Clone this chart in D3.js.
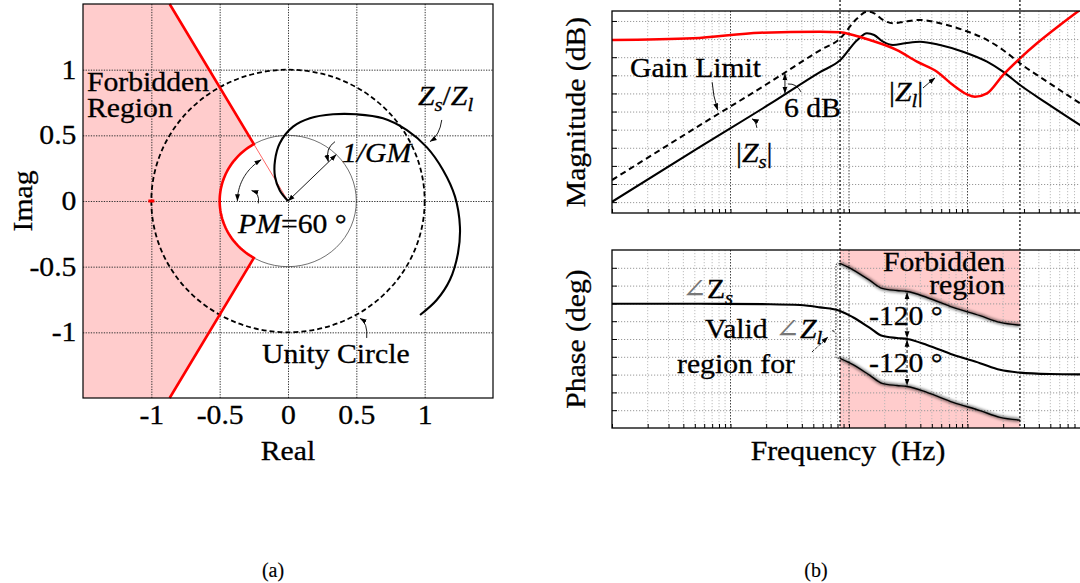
<!DOCTYPE html>
<html>
<head>
<meta charset="utf-8">
<script src="https://cdn.jsdelivr.net/npm/d3@7/dist/d3.min.js"></script>
<style>
  html, body { margin: 0; padding: 0; background: #fff; }
  svg text, svg tspan { font-family: "Liberation Serif", "DejaVu Serif", serif; }
  svg text { stroke: currentColor; stroke-width: 0.3px; }
</style>
</head>
<body>
<svg id="fig" width="1080" height="583"></svg>
<script>
// ---------------- (a) Nyquist plot of Zs/Zl ----------------
const nyqTicks = [-1, -0.5, 0, 0.5, 1];
const nyqTickLabels = ["-1", "-0.5", "0", "0.5", "1"];
const phaseMarginDeg = 60;     // PM
const invGainMargin = 0.5;     // 1/GM
const unityRadius = 1;
const ratioRe = [0, -0.06, -0.095, -0.095, -0.06, 0.037, 0.16, 0.33, 0.50, 0.695, 0.87, 1.015, 1.134, 1.222, 1.258, 1.244, 1.185, 1.088, 0.966];
const ratioIm = [0, 0.08, 0.185, 0.31, 0.44, 0.566, 0.63, 0.66, 0.66, 0.63, 0.54, 0.41, 0.236, 0.033, -0.196, -0.396, -0.60, -0.754, -0.868];

// ---------------- (b) Bode plots of Zs and Zl ----------------
const magTicksDb = [-50, -45, -40, -35, -30, -25, -20, -15, -10, -5, 0];
const phaseTicksDeg = [-180, -135, -90, -45, 0, 45, 90, 135, 180];
const zsMagFreq = [10, 55.3, 215, 569, 840, 1170, 1418, 1630, 1936, 2351, 2970, 3970, 5860, 9160, 14610, 19930, 27730, 46870, 100000];
const zsMagDb   = [-49.9, -34.76, -22.9, -14.1, -10.86, -5.3, -3.41, -3.88, -5.72, -6.64, -6.17, -5.72, -6.64, -8.48, -11.24, -14.0, -17.68, -22.73, -29.8];
const zlMagFreq = [10, 48.3, 178, 569, 840, 1081, 1503, 2542, 3748, 5528, 7545, 9903, 11570, 14610, 19930, 27730, 38590, 60330, 89000, 100000];
const zlMagDb   = [-5.26, -4.79, -3.24, -2.96, -3.13, -3.88, -5.26, -8.04, -11.24, -14.0, -17.68, -20.24, -20.9, -19.97, -14.92, -10.31, -6.17, -1.12, 3.03, 4.2];
const zsPhaseFreq = [10, 55, 216, 386, 569, 840, 1080, 1500, 1900, 2540, 3090, 4550, 7550, 12750, 18800, 27700, 49700, 100000];
const zsPhaseDeg  = [89, 89, 88, 86, 80, 71, 55, 28, 8, 2.5, 0, -15, -40, -61, -78, -85, -88.5, -89.5];
const gainMarginDb = 6;
const phaseBandDeg = 120;
const bandFreq = [840, 27700];
const bandNoteFreq = 3090;

// ---------------- helpers ----------------
const svg = d3.select("#fig");
const FS = 27, SX = 1.1;
const FONT = '"Liberation Serif", "DejaVu Serif", serif';

const defs = svg.append("defs");
defs.append("marker").attr("id", "ah")
  .attr("viewBox", "0 0 10 10").attr("refX", 9.5).attr("refY", 5)
  .attr("markerWidth", 7).attr("markerHeight", 7)
  .attr("markerUnits", "userSpaceOnUse").attr("orient", "auto-start-reverse")
  .append("path").attr("d", "M0,1.5 L10,5 L0,8.5 Z").attr("fill", "#000");
defs.append("filter").attr("id", "soft").attr("x", "-10%").attr("y", "-30%").attr("width", "120%").attr("height", "160%")
  .append("feGaussianBlur").attr("stdDeviation", 1.8);

// Places a (possibly mixed-style) text label; each part is a plain string or {t, i, sub, fill}.
function label(g, x, y, parts, o = {}) {
  const size = o.size || FS;
  const tf = `translate(${x},${y})` + (o.rotate ? ` rotate(${o.rotate})` : "") + ` scale(${o.sx ?? SX},1)`;
  const t = g.append("text").attr("transform", tf)
    .style("font-family", FONT).style("font-size", size + "px").style("font-style", "normal")
    .style("color", "#000")
    .attr("text-anchor", o.anchor || "start").attr("fill", "#000");
  if (o.size && o.size < 24) t.style("stroke-width", "0.15px");
  if (typeof parts === "string") { t.text(parts); return t; }
  let shift = 0;
  parts.forEach(p => {
    if (typeof p === "string") p = { t: p };
    const target = p.sub ? size * 0.24 : 0;
    const s = t.append("tspan").text(p.t)
      .style("font-family", FONT)
      .style("font-style", p.i ? "italic" : "normal")
      .style("font-size", (p.sub ? size * 0.7 : size) + "px");
    if (target !== shift) { s.attr("dy", target - shift); shift = target; }
    if (p.fill) s.attr("fill", p.fill).style("color", p.fill).style("stroke-width", "0px");
  });
  return t;
}

function leader(g, p0, c, p1, o = {}) {
  const path = d3.path();
  path.moveTo(p0[0], p0[1]);
  path.quadraticCurveTo(c[0], c[1], p1[0], p1[1]);
  const el = g.append("path").attr("d", path.toString()).attr("fill", "none")
    .attr("stroke", "#000").attr("stroke-width", o.w || 0.9);
  if (o.dash) el.attr("stroke-dasharray", o.dash);
  if (o.end !== false) el.attr("marker-end", "url(#ah)");
  if (o.start) el.attr("marker-start", "url(#ah)");
  return el;
}

// ================= (a) Nyquist =================
const xN = d3.scaleLinear().domain([-1.5, 1.5]).range([83, 493]);
const yN = d3.scaleLinear().domain([-1.5, 1.5]).range([398, 4]);
const gN = svg.append("g");
const [xl, xr] = xN.domain(), [yb, yt] = yN.domain();
const toPx = ([re, im]) => [xN(re), yN(im)];
const rad = a => a * Math.PI / 180;
const rayDeg = 180 - phaseMarginDeg;                 // 120 deg boundary ray
const arcPts = d3.range(rayDeg, 360 - rayDeg + 0.01, 2)
  .map(a => [invGainMargin * Math.cos(rad(a)), invGainMargin * Math.sin(rad(a))]);
const rTop = yt / Math.sin(rad(rayDeg));
const topPt = [rTop * Math.cos(rad(rayDeg)), yt];
const botPt = [topPt[0], yb];

// forbidden region fill
gN.append("path")
  .attr("d", d3.line()([[xl, yt], topPt, ...arcPts, botPt, [xl, yb]].map(toPx)) + "Z")
  .attr("fill", "#ffcccc");

// grid
gN.append("g").attr("transform", `translate(0,${yN(yb)})`)
  .call(d3.axisBottom(xN).tickValues(nyqTicks).tickSize(-(yN(yb) - yN(yt))).tickFormat(""))
  .call(a => a.select(".domain").remove())
  .selectAll("line").attr("stroke", "#333").attr("stroke-dasharray", "1.3,1.3");
gN.append("g").attr("transform", `translate(${xN(xl)},0)`)
  .call(d3.axisLeft(yN).tickValues(nyqTicks).tickSize(-(xN(xr) - xN(xl))).tickFormat(""))
  .call(a => a.select(".domain").remove())
  .selectAll("line").attr("stroke", "#333").attr("stroke-dasharray", "1.3,1.3");

// tick labels
gN.append("g").attr("transform", `translate(0,${yN(yb)})`)
  .call(d3.axisBottom(xN).tickValues(nyqTicks).tickSize(0).tickFormat((d, i) => nyqTickLabels[i]))
  .call(a => a.select(".domain").remove())
  .selectAll("text").attr("y", 26).attr("dy", null).attr("fill", "#000").style("color", "#000")
  .style("font-size", FS + "px").style("font-family", FONT)
  .attr("transform", `scale(${SX},1)`);
gN.append("g").attr("transform", `translate(${xN(xl)},0)`)
  .call(d3.axisLeft(yN).tickValues(nyqTicks).tickSize(0).tickPadding(6).tickFormat((d, i) => nyqTickLabels[i]))
  .call(a => a.select(".domain").remove())
  .selectAll("text").attr("fill", "#000").style("color", "#000").style("font-size", FS + "px").style("font-family", FONT)
  .attr("transform", `scale(${SX},1)`);

// 1/GM circle (thin)
gN.append("ellipse").attr("cx", xN(0)).attr("cy", yN(0))
  .attr("rx", xN(invGainMargin) - xN(0)).attr("ry", yN(0) - yN(invGainMargin))
  .attr("fill", "none").attr("stroke", "#333").attr("stroke-width", 0.7);
// unity circle (dashed)
gN.append("ellipse").attr("cx", xN(0)).attr("cy", yN(0))
  .attr("rx", xN(unityRadius) - xN(0)).attr("ry", yN(0) - yN(unityRadius))
  .attr("fill", "none").attr("stroke", "#000").attr("stroke-width", 1.8).attr("stroke-dasharray", "5,3");

// forbidden region boundary
gN.append("path").attr("d", d3.line()([topPt, ...arcPts, botPt].map(toPx)))
  .attr("fill", "none").attr("stroke", "#ff0000").attr("stroke-width", 2.6);
gN.append("path").attr("d", d3.line()([arcPts[0], [0, 0]].map(toPx)))
  .attr("fill", "none").attr("stroke", "#ff0000").attr("stroke-width", 0.6);
// critical point -1
gN.append("line").attr("x1", xN(-1) - 3).attr("x2", xN(-1) + 3).attr("y1", yN(0)).attr("y2", yN(0))
  .attr("stroke", "#ff0000").attr("stroke-width", 3);

// Zs/Zl locus
gN.append("path")
  .attr("d", d3.line().x(i => xN(ratioRe[i])).y(i => yN(ratioIm[i])).curve(d3.curveCatmullRom)(d3.range(ratioRe.length)))
  .attr("fill", "none").attr("stroke", "#000").attr("stroke-width", 2.1);

// 1/GM radius arrow
const gmDir = rad(45);
gN.append("line").attr("x1", xN(0)).attr("y1", yN(0))
  .attr("x2", xN(invGainMargin * Math.cos(gmDir))).attr("y2", yN(invGainMargin * Math.sin(gmDir)))
  .attr("stroke", "#000").attr("stroke-width", 0.9)
  .attr("marker-end", "url(#ah)").attr("marker-start", "url(#ah)");

// PM angle arc
const pmArc = d3.range(180, rayDeg + 0.5, -2).map(a => [0.37 * Math.cos(rad(a)), 0.37 * Math.sin(rad(a))]);
gN.append("path").attr("d", d3.line().curve(d3.curveCatmullRom)(pmArc.map(toPx)))
  .attr("fill", "none").attr("stroke", "#000").attr("stroke-width", 0.9)
  .attr("marker-end", "url(#ah)").attr("marker-start", "url(#ah)");

// leaders
leader(gN, toPx([-0.217, -0.018]), toPx([-0.205, 0.06]), toPx([-0.266, 0.08]));
leader(gN, toPx([0.344, 0.452]), toPx([0.27, 0.40]), toPx([0.295, 0.30]));
leader(gN, toPx([1.125, 0.617]), toPx([1.11, 0.50]), toPx([1.039, 0.452]));
leader(gN, toPx([0.576, -1.043]), toPx([0.585, -0.93]), toPx([0.527, -0.893]));

// frame
gN.append("rect").attr("x", xN(xl)).attr("y", yN(yt))
  .attr("width", xN(xr) - xN(xl)).attr("height", yN(yb) - yN(yt))
  .attr("fill", "none").attr("stroke", "#000").attr("stroke-width", 1.2);

// texts
label(gN, 87, 91, "Forbidden");
label(gN, 87, 117, "Region");
label(gN, 238, 233, [{ t: "PM", i: true }, "=60 °"]);
label(gN, 342, 162, [{ t: "1/GM", i: true }]);
label(gN, 418, 105, [{ t: "Z", i: true }, { t: "s", i: true, sub: true }, { t: "/" }, { t: "Z", i: true }, { t: "l", i: true, sub: true }]);
label(gN, 262, 363, "Unity Circle");
label(gN, xN(0), 460, "Real", { anchor: "middle" });
label(gN, 32, yN(0), "Imag", { anchor: "middle", rotate: -90 });
label(gN, 273, 577, "(a)", { anchor: "middle", size: 20, sx: 1 });

// ================= (b) Bode =================
const xF = d3.scaleLog().domain([10, 1e5]).range([612, 1086]);
const yM = d3.scaleLinear().domain([-53, 2.75]).range([213, 11]);
const yP = d3.scaleLinear().domain([-225, 225]).range([428, 250]);
const gB = svg.append("g");
const fTicks = xF.ticks();
const isDecade = f => Math.abs(Math.log10(f) - Math.round(Math.log10(f))) < 1e-6;

function bodeGrid(y, ticks) {
  const top = y.range()[1], bot = y.range()[0];
  const g = gB.append("g");
  g.selectAll(".v").data(fTicks.filter(f => f > xF.domain()[0] && f < xF.domain()[1])).join("line")
    .attr("x1", d => xF(d)).attr("x2", d => xF(d)).attr("y1", top).attr("y2", bot)
    .attr("stroke", d => isDecade(d) ? "#444" : "#b5b5b5")
    .attr("stroke-width", d => isDecade(d) ? 1 : 0.9)
    .attr("stroke-dasharray", d => isDecade(d) ? "1.5,1.5" : "1.2,1.8");
  g.append("g").attr("transform", `translate(${xF.range()[0]},0)`)
    .call(d3.axisLeft(y).tickValues(ticks).tickSize(-(xF.range()[1] - xF.range()[0])).tickFormat(""))
    .call(a => a.select(".domain").remove())
    .selectAll("line").attr("stroke", "#999").attr("stroke-dasharray", "1.2,1.8");
  // inward ticks
  g.append("g").attr("transform", `translate(${xF.range()[0]},0)`)
    .call(d3.axisLeft(y).tickValues(ticks).tickSize(-5).tickFormat(""))
    .call(a => a.select(".domain").remove())
    .selectAll("line").attr("stroke", "#000");
  g.append("g").attr("transform", `translate(0,${bot})`)
    .call(d3.axisBottom(xF).tickValues(fTicks).tickSize(-4).tickFormat(""))
    .call(a => a.select(".domain").remove())
    .selectAll("line").attr("stroke", "#000");
}
function bodeFrame(y) {
  gB.append("rect").attr("x", xF.range()[0]).attr("y", y.range()[1])
    .attr("width", xF.range()[1] - xF.range()[0]).attr("height", y.range()[0] - y.range()[1])
    .attr("fill", "none").attr("stroke", "#000").attr("stroke-width", 1.3);
}
function clip(id, y) {
  defs.append("clipPath").attr("id", id).append("rect")
    .attr("x", xF.range()[0]).attr("y", y.range()[1])
    .attr("width", xF.range()[1] - xF.range()[0]).attr("height", y.range()[0] - y.range()[1]);
}
clip("cm", yM); clip("cp", yP);

// ---- magnitude ----
bodeGrid(yM, magTicksDb);
const gMag = gB.append("g").attr("clip-path", "url(#cm)");
const magLine = d3.line().x(d => xF(d[0])).y(d => yM(d[1])).curve(d3.curveMonotoneX);
const zsMag = zsMagFreq.map((f, i) => [f, zsMagDb[i]]);
gMag.append("path").attr("d", magLine(zsMag.map(d => [d[0], d[1] + gainMarginDb])))
  .attr("fill", "none").attr("stroke", "#000").attr("stroke-width", 2).attr("stroke-dasharray", "6,4");
gMag.append("path").attr("d", magLine(zsMag))
  .attr("fill", "none").attr("stroke", "#000").attr("stroke-width", 2.1);
gMag.append("path").attr("d", magLine(zlMagFreq.map((f, i) => [f, zlMagDb[i]])))
  .attr("fill", "none").attr("stroke", "#ff0000").attr("stroke-width", 2.5);
bodeFrame(yM);

// ---- phase ----
const band = zsPhaseFreq.map((f, i) => ({ f, d: zsPhaseDeg[i] }))
  .filter(p => p.f >= bandFreq[0] && p.f <= bandFreq[1]);
const gPh = gB.append("g").attr("clip-path", "url(#cp)");
gPh.append("path")
  .attr("d", d3.area().x(p => xF(p.f)).y0(yP.range()[1]).y1(p => yP(p.d + phaseBandDeg)).curve(d3.curveMonotoneX)(band))
  .attr("fill", "#ffcccc");
gPh.append("path")
  .attr("d", d3.area().x(p => xF(p.f)).y0(yP.range()[0]).y1(p => yP(p.d - phaseBandDeg)).curve(d3.curveMonotoneX)(band))
  .attr("fill", "#ffcccc");
bodeGrid(yP, phaseTicksDeg);
const gPh2 = gB.append("g").attr("clip-path", "url(#cp)");
const phLine = d3.line().x(p => xF(p.f)).y(p => yP(p.d)).curve(d3.curveMonotoneX);
[phaseBandDeg, -phaseBandDeg].forEach(off => {
  const pts = band.map(p => ({ f: p.f, d: p.d + off }));
  gPh2.append("path").attr("d", phLine(pts)).attr("fill", "none")
    .attr("stroke", "#000").attr("stroke-width", 3.5).attr("opacity", 0.55).attr("filter", "url(#soft)");
  gPh2.append("path").attr("d", phLine(pts)).attr("fill", "none")
    .attr("stroke", "#000").attr("stroke-width", 1.4);
});
gPh2.append("path").attr("d", phLine(zsPhaseFreq.map((f, i) => ({ f, d: zsPhaseDeg[i] }))))
  .attr("fill", "none").attr("stroke", "#000").attr("stroke-width", 2.1);
bodeFrame(yP);

// band edge markers spanning both plots
bandFreq.forEach(f => {
  gB.append("line").attr("x1", xF(f)).attr("x2", xF(f)).attr("y1", 0).attr("y2", yP.range()[0])
    .attr("stroke", "#000").attr("stroke-width", 1.2).attr("stroke-dasharray", "2,2");
});

// ---- magnitude annotations ----
const zsMagAt = d3.scaleLinear().domain(zsMagFreq.map(Math.log10)).range(zsMagDb);
const f6 = 288;
gB.append("line").attr("x1", xF(f6)).attr("x2", xF(f6))
  .attr("y1", yM(zsMagAt(Math.log10(f6)) + gainMarginDb) + 1).attr("y2", yM(zsMagAt(Math.log10(f6))) - 1)
  .attr("stroke", "#000").attr("stroke-width", 0.9)
  .attr("marker-end", "url(#ah)").attr("marker-start", "url(#ah)");
const mp = (f, db) => [xF(f), yM(db)];
leader(gB, mp(394, -19.6), mp(360, -17.2), mp(306, -17.4), { end: false });
leader(gB, mp(70, -16.9), mp(71, -20.5), mp(78, -24.6));
leader(gB, mp(167, -29.5), mp(163, -27.5), mp(152, -27));
leader(gB, mp(4212, -18.5), mp(4700, -17.1), mp(5318, -15.7));
label(gB, 630, 77, "Gain Limit");
label(gB, 784, 117, "6 dB");
label(gB, 736, 162, ["|", { t: "Z", i: true }, { t: "s", i: true, sub: true }, "|"]);
label(gB, 889, 101, ["|", { t: "Z", i: true }, { t: "l", i: true, sub: true }, "|"]);
label(gB, 585, (yM.range()[0] + yM.range()[1]) / 2, "Magnitude (dB)", { anchor: "middle", rotate: -90 });

// ---- phase annotations ----
const zsPhAt = d3.scaleLinear().domain(zsPhaseFreq.map(Math.log10)).range(zsPhaseDeg);
const pn = zsPhAt(Math.log10(bandNoteFreq));
[[pn + phaseBandDeg, pn], [pn, pn - phaseBandDeg]].forEach(([a, b]) => {
  gB.append("line").attr("x1", xF(bandNoteFreq)).attr("x2", xF(bandNoteFreq))
    .attr("y1", yP(a) + 1).attr("y2", yP(b) - 1)
    .attr("stroke", "#000").attr("stroke-width", 0.9).attr("stroke-dasharray", "3,2")
    .attr("marker-end", "url(#ah)").attr("marker-start", "url(#ah)");
});
const pp = (f, d) => [xF(f), yP(d)];
const bLo = zsPhAt(Math.log10(bandFreq[0]));
const bracket = [[bandFreq[0], bLo + phaseBandDeg], [776, bLo + phaseBandDeg - 2], [776, 24], [719, 20.3], [776, 16.6], [776, bLo - phaseBandDeg + 2], [bandFreq[0], bLo - phaseBandDeg]];
gB.append("path").attr("d", d3.line()(bracket.map(d => pp(d[0], d[1]))))
  .attr("fill", "none").attr("stroke", "#000").attr("stroke-width", 0.9).attr("stroke-dasharray", "1.5,1.5");
leader(gB, pp(487, -32.8), pp(570, -14), pp(665, 5), { dash: "3,1.5" });
label(gB, 682, 298, [{ t: "∠", fill: "#777" }, { t: "Z" }, { t: "s", i: true, sub: true }]);
label(gB, 705, 338, ["Valid ", { t: "∠", fill: "#777" }, { t: "Z", i: true }, { t: "l", i: true, sub: true }]);
label(gB, 677, 373, "region for");
label(gB, 869, 325, "-120 °");
label(gB, 869, 372, "-120 °");
label(gB, 1005, 271, "Forbidden", { anchor: "end" });
label(gB, 1005, 294, "region", { anchor: "end" });
label(gB, 585, (yP.range()[0] + yP.range()[1]) / 2, "Phase (deg)", { anchor: "middle", rotate: -90 });
label(gB, 848, 460, "Frequency\u00a0\u00a0(Hz)", { anchor: "middle" });
label(gB, 816, 577, "(b)", { anchor: "middle", size: 20, sx: 1 });
</script>
</body>
</html>
